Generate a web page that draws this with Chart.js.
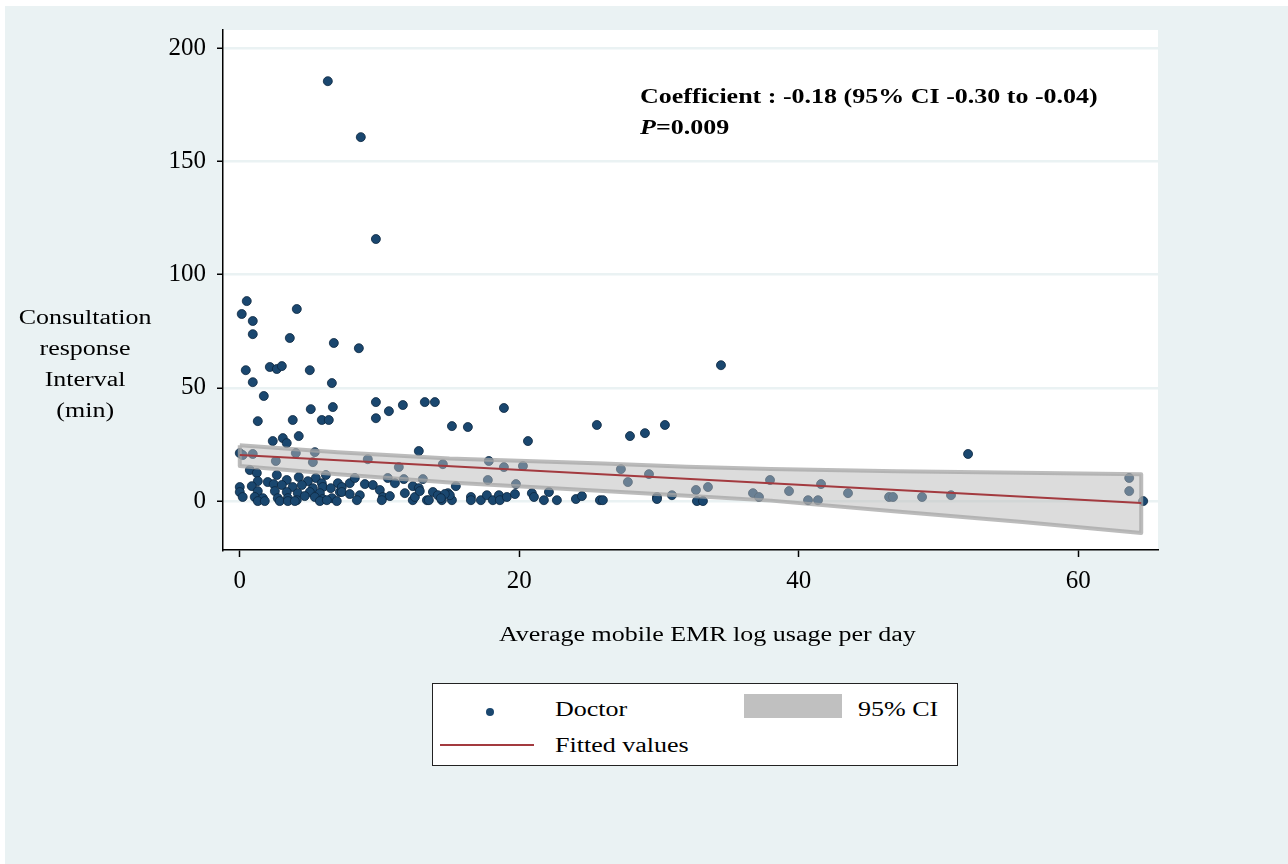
<!DOCTYPE html>
<html>
<head>
<meta charset="utf-8">
<script src="https://cdn.jsdelivr.net/npm/chart.js@4/dist/chart.umd.min.js"></script>
<style>
  body { margin: 0; background: #fff; }
  #wrap { position: relative; width: 1288px; height: 864px; }
  #scatterChart { position: absolute; left: 0; top: 0; }
  .serif { font-family: "Liberation Serif", "Times New Roman", serif; color: #000; }
  .stretch { display: inline-block; transform: scaleX(1.3); white-space: nowrap; }
  #yTitle { position: absolute; left: 0; width: 170px; top: 302px; font-size: 20px; line-height: 31px; text-align: center; }
  #yTitle .stretch { transform-origin: center; }
  #xTitle { position: absolute; left: 407px; width: 600px; top: 623px; font-size: 20px; text-align: center; }
  #xTitle .stretch { transform-origin: center; }
  #note { position: absolute; left: 640px; top: 81px; font-size: 20px; line-height: 31px; font-weight: bold; }
  #note .stretch { transform-origin: left center; }
  #legend { position: absolute; left: 432px; top: 683px; width: 524px; height: 81px; border: 1.5px solid #222; background: #fff; font-size: 20px; }
  #legend .item { position: absolute; height: 30px; line-height: 30px; }
  #legend .stretch { transform-origin: left center; }
</style>
</head>
<body>
<div id="wrap">
  <canvas id="scatterChart" width="1288" height="864"></canvas>
  <div id="yTitle" class="serif"></div>
  <div id="xTitle" class="serif"><span class="stretch">Average mobile EMR log usage per day</span></div>
  <div id="note" class="serif">
    <span class="stretch">Coefficient : -0.18 (95% CI -0.30 to -0.04)</span><br>
    <span class="stretch"><i>P</i>=0.009</span>
  </div>
  <div id="legend" class="serif"></div>
</div>
<script>
const yTitleLines = ['Consultation', 'response', 'Interval', '(min)'];
const xTicks = [0, 20, 40, 60];
const yTicks = [0, 50, 100, 150, 200];

// average mobile EMR log usage per day (x) and consultation response interval in minutes (y)
const emrUsage = [
    6.30, 8.66, 9.74, 0.50, 0.14, 0.93, 0.93, 4.08, 3.58, 6.73,
    8.52, 0.43, 2.15, 2.65, 3.01, 5.01, 0.93, 6.59, 1.72, 9.74,
    13.24, 13.96, 11.67, 10.67, 5.08, 6.66, 18.90, 9.74, 3.79, 5.87,
    6.37, 1.29, 15.18, 16.32, 25.55, 30.42, 28.99, 27.92, 20.62, 4.22,
    2.36, 3.08, 3.36, 34.43, 52.11, 12.81, 0.00, 0.21, 0.93, 2.58,
    4.01, 5.37, 5.23, 9.16, 11.38, 14.53, 17.82, 18.90, 20.26, 27.27,
    27.77, 29.28, 32.64, 33.50, 36.72, 37.15, 37.94, 39.30, 40.66, 41.37,
    41.59, 43.52, 46.46, 46.74, 48.82, 50.89, 63.64, 63.64, 64.64, 32.71,
    33.14, 29.85, 29.85, 30.92, 25.77, 25.98, 0.72, 1.22, 2.65, 4.22,
    5.44, 6.16, 1.29, 2.00, 3.36, 4.87, 5.87, 7.02, 0.00, 0.86,
    2.43, 3.01, 3.79, 4.44, 5.23, 5.94, 6.51, 0.00, 1.29, 2.51,
    3.36, 4.15, 5.01, 5.73, 7.16, 0.21, 1.07, 1.65, 2.72, 3.44,
    4.08, 4.65, 5.37, 5.94, 6.59, 1.29, 1.79, 2.86, 3.44, 3.94,
    5.73, 6.23, 6.94, 7.30, 7.87, 8.23, 8.95, 9.52, 10.59, 11.10,
    11.74, 13.10, 12.38, 12.81, 7.30, 7.87, 8.59, 8.38, 10.02, 10.24,
    10.74, 11.81, 12.38, 12.53, 13.39, 13.82, 14.17, 14.46, 14.89, 15.18,
    10.16, 12.88, 15.46, 15.03, 14.67, 14.39, 13.53, 16.54, 16.54, 17.25,
    17.68, 18.11, 18.54, 18.61, 19.11, 19.69, 19.76, 17.75, 20.90, 21.05,
    21.76, 22.12, 22.69, 24.05, 24.48
];
const responseMin = [
    185.4, 160.7, 115.7, 88.3, 82.6, 79.5, 73.7, 84.8, 72.0, 69.8,
    67.5, 57.8, 59.2, 58.3, 59.6, 57.8, 52.5, 52.1, 46.4, 43.7,
    43.7, 43.7, 42.4, 39.7, 40.6, 41.5, 41.1, 36.6, 35.8, 35.8,
    35.8, 35.3, 33.1, 32.7, 33.6, 33.6, 30.0, 28.7, 26.5, 28.7,
    26.5, 27.8, 25.6, 60.0, 20.8, 22.1, 21.2, 20.3, 20.8, 17.7,
    21.2, 21.6, 17.2, 18.5, 15.0, 16.3, 17.7, 15.0, 15.5, 14.1,
    8.4, 11.9, 4.9, 6.2, 3.5, 1.8, 9.3, 4.4, 0.4, 0.4,
    7.5, 3.5, 1.8, 1.8, 1.8, 2.6, 10.2, 4.4, 0.0, 0.0,
    0.0, 1.8, 0.9, 2.6, 0.4, 0.4, 13.7, 12.4, 11.5, 10.6,
    10.2, 11.5, 8.8, 8.4, 9.3, 8.8, 7.9, 7.9, 6.2, 6.6,
    7.5, 7.1, 6.2, 7.1, 5.7, 6.2, 5.7, 4.0, 4.4, 4.4,
    4.0, 3.5, 4.0, 3.5, 4.0, 1.8, 1.8, 1.3, 1.3, 1.3,
    0.4, 2.2, 1.8, 0.9, 1.3, 0.0, 0.0, 0.0, 0.0, 0.0,
    0.0, 0.4, 0.0, 6.2, 7.9, 10.2, 7.5, 7.1, 10.2, 7.9,
    9.7, 9.7, 6.6, 5.7, 4.0, 3.1, 2.6, 0.4, 4.9, 1.8,
    2.2, 3.5, 0.4, 1.8, 0.4, 4.0, 2.6, 0.4, 3.5, 0.4,
    0.4, 4.4, 6.6, 2.6, 3.1, 1.3, 0.4, 1.8, 0.4, 0.4,
    2.6, 0.4, 2.6, 0.4, 1.8, 3.1, 7.5, 9.3, 3.5, 1.8,
    0.4, 4.0, 0.4, 0.9, 2.2
];

// fitted line and 95% CI band
const fitX = [0, 64.5];
const fitY = [20.3, -0.9];
const bandX = [0, 7, 15, 26, 32, 38, 47, 56, 64.5];
const bandUpper = [24.7, 21.6, 18.8, 16.6, 15.2, 14.2, 13.2, 12.5, 11.9];
const bandLower = [15.5, 11.8, 8.2, 4.5, 2.4, 0.2, -4.6, -9.2, -14.1];

const serif = '"Liberation Serif", "Times New Roman", serif';
const bgColor = '#eaf2f3';
const navy = '#1a476f';

// closed outline of the band: along the top, back along the bottom
const bandShape = bandX.map((x, i) => ({ x: x, y: bandUpper[i] }))
    .concat(bandX.map((x, i) => ({ x: x, y: bandLower[i] })).reverse());
bandShape.push({ x: bandX[0], y: bandUpper[0] });

const backdrop = {
    id: 'backdrop',
    beforeDraw(chart) {
        const c = chart.ctx;
        const a = chart.chartArea;
        c.save();
        c.fillStyle = '#fff';
        c.fillRect(0, 0, chart.width, chart.height);
        c.fillStyle = bgColor;
        c.fillRect(5, 6, chart.width - 5, chart.height - 6);
        c.fillStyle = '#fff';
        c.fillRect(a.left, a.top, a.right - a.left, a.bottom - a.top);
        c.restore();
    }
};

const ctx = document.getElementById('scatterChart').getContext('2d');
const chart = new Chart(ctx, {
    type: 'scatter',
    data: {
        datasets: [
            {
                label: 'Doctor',
                data: emrUsage.map((x, i) => ({ x: x, y: responseMin[i] })),
                pointRadius: 4.5,
                pointBackgroundColor: navy,
                pointBorderColor: '#0c2740',
                pointBorderWidth: 0.8,
                order: 3,
            },
            {
                label: '95% CI',
                type: 'line',
                data: bandShape,
                fill: 'shape',
                backgroundColor: 'rgba(185,185,185,0.5)',
                borderColor: 'rgba(165,165,165,0.75)',
                borderWidth: 4,
                borderJoinStyle: 'round',
                pointRadius: 0,
                tension: 0,
                order: 2,
            },
            {
                label: 'Fitted values',
                type: 'line',
                data: fitX.map((x, i) => ({ x: x, y: fitY[i] })),
                borderColor: '#a33a3f',
                borderWidth: 2,
                pointRadius: 0,
                fill: false,
                order: 1,
            },
        ],
    },
    options: {
        responsive: false,
        animation: false,
        events: [],
        layout: { padding: { top: 30, right: 130, left: 0, bottom: 0 } },
        plugins: { legend: { display: false }, tooltip: { enabled: false } },
        scales: {
            x: {
                type: 'linear',
                min: -1.2,
                max: 65.7,
                afterBuildTicks: (scale) => { scale.ticks = xTicks.map(v => ({ value: v })); },
                afterFit: (scale) => { scale.height = 314; },
                grid: { drawOnChartArea: false, tickColor: '#000', tickLength: 7, tickWidth: 1.5 },
                border: { color: '#000', width: 1.5 },
                ticks: { color: '#000', font: { family: serif, size: 25 }, padding: 9, maxRotation: 0 },
            },
            y: {
                min: -21.6,
                max: 208,
                afterBuildTicks: (scale) => { scale.ticks = yTicks.map(v => ({ value: v })); },
                afterFit: (scale) => { scale.width = 223; },
                grid: { color: bgColor, lineWidth: 2.5, tickColor: '#000', tickLength: 6, tickWidth: 1.5 },
                border: { color: '#000', width: 1.5 },
                ticks: { color: '#000', font: { family: serif, size: 25 }, padding: 11 },
            },
        },
    },
    plugins: [backdrop],
});

// y axis title, one line per row
document.getElementById('yTitle').innerHTML =
    yTitleLines.map(t => '<span class="stretch">' + t + '</span>').join('<br>');

// legend built from the chart's datasets
const ds = chart.data.datasets;
const legend = document.getElementById('legend');
legend.innerHTML =
    '<div class="item" style="left:53px;top:11px;"><span style="display:inline-block;width:8px;height:8px;border-radius:50%;background:' + navy + ';vertical-align:middle;"></span></div>' +
    '<div class="item" style="left:122px;top:10px;"><span class="stretch">' + ds[0].label + '</span></div>' +
    '<div class="item" style="left:311px;top:10px;width:98px;height:24px;background:#c0c0c0;"></div>' +
    '<div class="item" style="left:425px;top:10px;"><span class="stretch">' + ds[1].label + '</span></div>' +
    '<div class="item" style="left:7px;top:60px;width:94px;height:2px;background:' + ds[2].borderColor + ';"></div>' +
    '<div class="item" style="left:122px;top:46px;"><span class="stretch">' + ds[2].label + '</span></div>';
</script>
</body>
</html>
